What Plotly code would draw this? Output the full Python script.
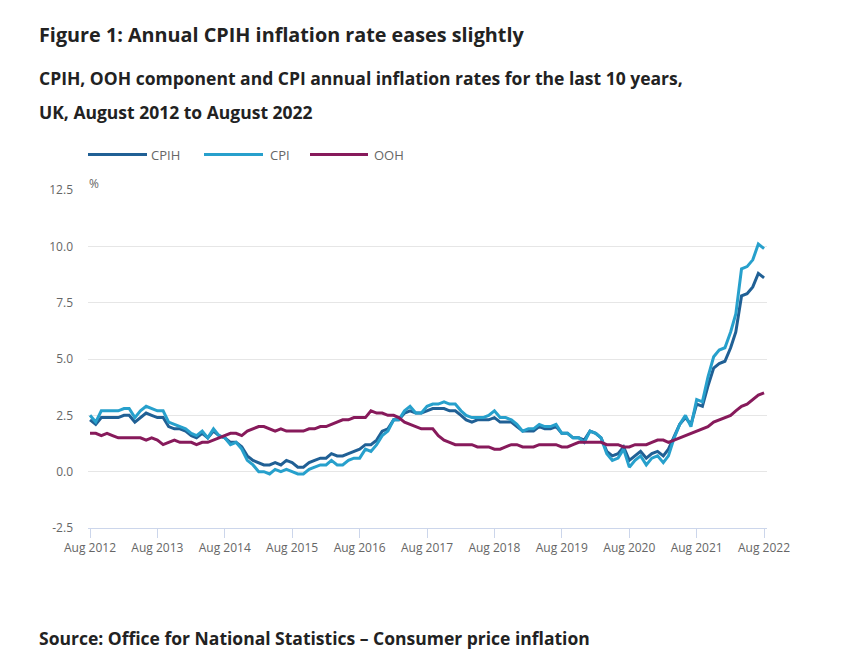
import pandas as pd
import plotly.graph_objects as go

# Monthly dates, Aug 2012 to Aug 2022
months = pd.date_range("2012-08-01", "2022-08-01", freq="MS")

cpih = [
    2.3, 2.1, 2.4, 2.4, 2.4,
    2.4, 2.5, 2.5, 2.2, 2.4, 2.6, 2.5, 2.4, 2.4, 2.0, 1.9, 1.9,
    1.8, 1.6, 1.5, 1.7, 1.5, 1.8, 1.6, 1.5, 1.3, 1.3, 1.1, 0.7,
    0.5, 0.4, 0.3, 0.3, 0.4, 0.3, 0.5, 0.4, 0.2, 0.2, 0.4, 0.5,
    0.6, 0.6, 0.8, 0.7, 0.7, 0.8, 0.9, 1.0, 1.2, 1.2, 1.4, 1.8,
    1.9, 2.3, 2.3, 2.6, 2.7, 2.6, 2.6, 2.7, 2.8, 2.8, 2.8, 2.7,
    2.7, 2.5, 2.3, 2.2, 2.3, 2.3, 2.3, 2.4, 2.2, 2.2, 2.2, 2.0,
    1.8, 1.8, 1.8, 2.0, 1.9, 1.9, 2.0, 1.7, 1.7, 1.5, 1.5, 1.4,
    1.8, 1.7, 1.5, 0.9, 0.7, 0.8, 1.1, 0.5, 0.7, 0.9, 0.6, 0.8,
    0.9, 0.7, 1.0, 1.6, 2.1, 2.4, 2.1, 3.0, 2.9, 3.8, 4.6, 4.8,
    4.9, 5.5, 6.2, 7.8, 7.9, 8.2, 8.8, 8.6,
]

cpi = [
    2.5, 2.2, 2.7, 2.7, 2.7,
    2.7, 2.8, 2.8, 2.4, 2.7, 2.9, 2.8, 2.7, 2.7, 2.2, 2.1, 2.0,
    1.9, 1.7, 1.6, 1.8, 1.5, 1.9, 1.6, 1.5, 1.2, 1.3, 1.0, 0.5,
    0.3, 0.0, 0.0, -0.1, 0.1, 0.0, 0.1, 0.0, -0.1, -0.1, 0.1, 0.2,
    0.3, 0.3, 0.5, 0.3, 0.3, 0.5, 0.6, 0.6, 1.0, 0.9, 1.2, 1.6,
    1.8, 2.3, 2.3, 2.7, 2.9, 2.6, 2.6, 2.9, 3.0, 3.0, 3.1, 3.0,
    3.0, 2.7, 2.5, 2.4, 2.4, 2.4, 2.5, 2.7, 2.4, 2.4, 2.3, 2.1,
    1.8, 1.9, 1.9, 2.1, 2.0, 2.0, 2.1, 1.7, 1.7, 1.5, 1.5, 1.3,
    1.8, 1.7, 1.5, 0.8, 0.5, 0.6, 1.0, 0.2, 0.5, 0.7, 0.3, 0.6,
    0.7, 0.4, 0.7, 1.5, 2.1, 2.5, 2.0, 3.2, 3.1, 4.2, 5.1, 5.4,
    5.5, 6.2, 7.0, 9.0, 9.1, 9.4, 10.1, 9.9,
]

ooh = [
    1.7, 1.7, 1.6, 1.7, 1.6,
    1.5, 1.5, 1.5, 1.5, 1.5, 1.4, 1.5, 1.4, 1.2, 1.3, 1.4, 1.3,
    1.3, 1.3, 1.2, 1.3, 1.3, 1.4, 1.5, 1.6, 1.7, 1.7, 1.6, 1.8,
    1.9, 2.0, 2.0, 1.9, 1.8, 1.9, 1.8, 1.8, 1.8, 1.8, 1.9, 1.9,
    2.0, 2.0, 2.1, 2.2, 2.3, 2.3, 2.4, 2.4, 2.4, 2.7, 2.6, 2.6,
    2.5, 2.5, 2.4, 2.2, 2.1, 2.0, 1.9, 1.9, 1.9, 1.6, 1.4, 1.3,
    1.2, 1.2, 1.2, 1.2, 1.1, 1.1, 1.1, 1.0, 1.0, 1.1, 1.2, 1.2,
    1.1, 1.1, 1.1, 1.2, 1.2, 1.2, 1.2, 1.1, 1.1, 1.2, 1.3, 1.3,
    1.3, 1.3, 1.3, 1.2, 1.2, 1.2, 1.1, 1.1, 1.2, 1.2, 1.2, 1.3,
    1.4, 1.4, 1.3, 1.4, 1.5, 1.6, 1.7, 1.8, 1.9, 2.0, 2.2, 2.3,
    2.4, 2.5, 2.7, 2.9, 3.0, 3.2, 3.4, 3.5,
]

series_names = ["CPIH", "CPI", "OOH"]
series_colors = ["#206095", "#27a0cc", "#871a5b"]
series_values = [cpih, cpi, ooh]

y_ticks = [-2.5, 0.0, 2.5, 5.0, 7.5, 10.0, 12.5]
x_tick_dates = pd.date_range("2012-08-01", "2022-08-01", freq="12MS")
x_tick_labels = [d.strftime("%b %Y") for d in x_tick_dates]

FONT = "Open Sans"
fig = go.Figure()
for name, color, vals in zip(series_names, series_colors, series_values):
    fig.add_trace(go.Scatter(
        x=months, y=vals, name=name, mode="lines",
        line=dict(color=color, width=3), showlegend=False,
    ))

# The page body has an 8px margin; work in screen pixels and shift.
OFF = 8
FIG_W, FIG_H = 852 - OFF, 663 - OFF
L, R, T, B = 88 - OFF, 767 - OFF, 190 - OFF, 528 - OFF
W, H = R - L, B - T


def px(x):
    return (x - OFF - L) / W


def py(y):
    return (B - (y - OFF)) / H


annotations = [
    dict(text="<b>Figure 1: Annual CPIH inflation rate eases slightly</b>",
         x=px(37), y=py(34), font=dict(size=19.8, color="#222222")),
    dict(text="<b>CPIH, OOH component and CPI annual inflation rates for the last 10 years,</b>",
         x=px(37), y=py(78), font=dict(size=17.5, color="#222222")),
    dict(text="<b>UK, August 2012 to August 2022</b>",
         x=px(37), y=py(112), font=dict(size=17.5, color="#222222")),
    dict(text="<b>Source: Office for National Statistics \u2013 Consumer price inflation</b>",
         x=px(37), y=py(638), font=dict(size=17.5, color="#222222")),
    dict(text="%", x=px(87), y=py(183), font=dict(size=12, color="#666666")),
]

shapes = []
legend_pos = [(88, 147, 149), (204, 263, 268), (310, 368, 372)]
for (x0, x1, xt), name, color in zip(legend_pos, series_names, series_colors):
    shapes.append(dict(type="line", xref="paper", yref="paper",
                       x0=px(x0), x1=px(x1), y0=py(154.5), y1=py(154.5),
                       line=dict(color=color, width=3)))
    annotations.append(dict(text=name, x=px(xt), y=py(155),
                            font=dict(size=13, color="#666666")))

for a in annotations:
    a.update(xref="paper", yref="paper", xanchor="left", yanchor="middle",
             showarrow=False)
    a["font"]["family"] = FONT

fig.update_layout(
    width=FIG_W, height=FIG_H,
    margin=dict(l=L, r=FIG_W - R, t=T, b=FIG_H - B, pad=0),
    paper_bgcolor="white", plot_bgcolor="white",
    font=dict(family=FONT, size=12, color="#666666"),
    annotations=annotations, shapes=shapes,
    xaxis=dict(
        type="date",
        range=["2012-07-21", "2022-08-17"],
        tickvals=x_tick_dates, ticktext=x_tick_labels,
        showgrid=False, zeroline=False,
        showline=True, linecolor="#ccd6eb", linewidth=1,
        ticks="outside", ticklen=9, tickcolor="#ccd6eb", tickwidth=1,
        tickfont=dict(size=12, color="#666666"),
    ),
    yaxis=dict(
        range=[-2.5, 12.5],
        tickvals=y_ticks, ticktext=[f"{v:.1f}" for v in y_ticks],
        showgrid=True, gridcolor="#e6e6e6", gridwidth=1,
        zeroline=False, showline=False, ticks="",
        ticklabelstandoff=14,
        tickfont=dict(size=12, color="#666666"),
    ),
)

fig.write_html("out.html")
